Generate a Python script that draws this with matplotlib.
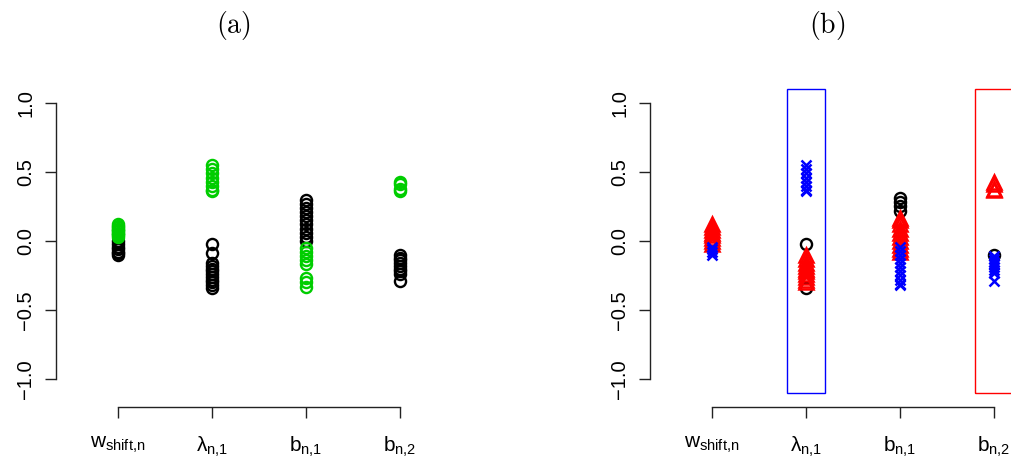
import numpy as np
import matplotlib
matplotlib.use("Agg")
import matplotlib.pyplot as plt
from matplotlib.patches import Rectangle

plt.rcParams['font.family'] = ['Liberation Sans', 'DejaVu Sans']
plt.rcParams['mathtext.fontset'] = 'custom'
plt.rcParams['mathtext.rm'] = 'Liberation Sans'
plt.rcParams['mathtext.it'] = 'Liberation Sans:italic'
plt.rcParams['mathtext.bf'] = 'Liberation Sans:bold'

# ---------------- data ----------------
tick_labels = [r'$\mathregular{w_{shift{,}n}}$', r'$\mathregular{\lambda_{n{,}1}}$',
               r'$\mathregular{b_{n{,}1}}$', r'$\mathregular{b_{n{,}2}}$']
y_ticks = [-1.0, -0.5, 0.0, 0.5, 1.0]
y_ticklabels = ['\u22121.0', '\u22120.5', '0.0', '0.5', '1.0']
panel_titles = ['(a)', '(b)']

# panel (a): black circles and green circles, per parameter
a_black = [
    [0.0, -0.02, -0.04, -0.06, -0.08, -0.09, -0.10],
    [-0.02, -0.09, -0.16, -0.18, -0.20, -0.22, -0.24, -0.26, -0.28, -0.30, -0.32, -0.34],
    [0.30, 0.27, 0.24, 0.21, 0.18, 0.15, 0.12, 0.09, 0.06, 0.03, 0.0],
    [-0.10, -0.12, -0.14, -0.16, -0.18, -0.20, -0.22, -0.24, -0.29],
]
a_green = [
    [0.12, 0.11, 0.10, 0.09, 0.08, 0.07, 0.06, 0.05, 0.04, 0.03],
    [0.55, 0.52, 0.49, 0.46, 0.43, 0.40, 0.37, 0.36],
    [-0.05, -0.08, -0.11, -0.14, -0.17, -0.27, -0.30, -0.33],
    [0.43, 0.41, 0.38, 0.36],
]

# panel (b): black circles, red triangles, blue crosses
b_black = [
    [0.0, -0.02],
    [-0.02, -0.34],
    [0.31, 0.28, 0.25, 0.22],
    [-0.10],
]
b_red = [
    [0.12, 0.10, 0.08, 0.06, 0.04, 0.02, 0.0, -0.02],
    [-0.10, -0.13, -0.16, -0.18, -0.20, -0.22, -0.24, -0.26, -0.28, -0.30],
    [0.17, 0.15, 0.12, 0.09, 0.06, 0.03, 0.0, -0.03, -0.06, -0.08],
    [0.43, 0.41, 0.38, 0.37],
]
b_blue = [
    [-0.04, -0.06, -0.08, -0.10],
    [0.55, 0.52, 0.49, 0.46, 0.43, 0.40, 0.37, 0.36],
    [-0.04, -0.07, -0.10, -0.13, -0.16, -0.19, -0.22, -0.25, -0.28, -0.31, -0.32],
    [-0.11, -0.13, -0.15, -0.17, -0.19, -0.21, -0.23, -0.29],
]

# highlight boxes in panel (b): (x-from, x-to, color)
boxes = [(1.8, 2.2, 'blue'), (3.8, 4.2, 'red')]
box_y = (-1.1, 1.1)

GREEN = '#00CD00'

# ---------------- figure ----------------
W, H = 1012, 459
fig = plt.figure(figsize=(W / 100, H / 100), dpi=100)

xlim = (0.34, 4.5)
ylim = (-1.203, 1.15)
px_per_x = 94.0
px_per_y = 138.0


def make_axes(x1_px):
    left = x1_px - (1 - xlim[0]) * px_per_x
    width = (xlim[1] - xlim[0]) * px_per_x
    top = 241 - ylim[1] * px_per_y
    height = (ylim[1] - ylim[0]) * px_per_y
    ax = fig.add_axes([left / W, 1 - (top + height) / H, width / W, height / H])
    ax.set_xlim(*xlim)
    ax.set_ylim(*ylim)
    ax.patch.set_alpha(0)
    for s in ['top', 'right']:
        ax.spines[s].set_visible(False)
    ax.spines['left'].set_bounds(-1, 1)
    ax.spines['bottom'].set_bounds(1, 4)
    for s in ['left', 'bottom']:
        ax.spines[s].set_linewidth(1.0)
        ax.spines[s].set_color('#222222')
    ax.set_xticks(range(1, len(tick_labels) + 1))
    ax.set_xticklabels(tick_labels, fontsize=15)
    ax.set_yticks(y_ticks)
    ax.set_yticklabels(y_ticklabels, fontsize=14.5, rotation=90, va='center')
    ax.tick_params(axis='both', direction='out', length=8, width=1.0, color='#222222')
    ax.tick_params(axis='x', pad=12)
    ax.tick_params(axis='y', pad=7)
    return ax


circ = dict(marker='o', ls='none', mfc='none', ms=8, mew=1.7, clip_on=False)
tri = dict(marker='^', ls='none', mfc='none', ms=10, mew=1.8, clip_on=False)
cross = dict(marker='x', ls='none', ms=7.5, mew=1.8, clip_on=False)

# panel (a)
axa = make_axes(118)
for i, vals in enumerate(a_black):
    axa.plot(np.full(len(vals), i + 1), vals, color='black', **circ)
for i, vals in enumerate(a_green):
    axa.plot(np.full(len(vals), i + 1), vals, color=GREEN, mec=GREEN, **circ)

# panel (b)
axb = make_axes(712)
for x0, x1, col in boxes:
    axb.add_patch(Rectangle((x0, box_y[0]), x1 - x0, box_y[1] - box_y[0],
                            fill=False, ec=col, lw=1.0, clip_on=False))
for i, vals in enumerate(b_black):
    axb.plot(np.full(len(vals), i + 1), vals, color='black', **circ)
for i, vals in enumerate(b_red):
    axb.plot(np.full(len(vals), i + 1), vals, color='red', mec='red', **tri)
for i, vals in enumerate(b_blue):
    axb.plot(np.full(len(vals), i + 1), vals, color='blue', mec='blue', **cross)

# titles
for x_px, t in zip([233, 827], panel_titles):
    fig.text(x_px / W, 1 - 26 / H, r'$\mathrm{' + t + '}$', ha='center', va='center',
             fontsize=20, math_fontfamily='cm')

fig.savefig('out.png', dpi=100)
